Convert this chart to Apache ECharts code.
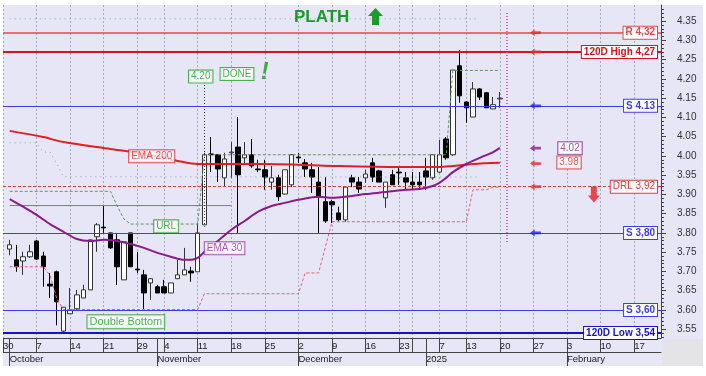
<!DOCTYPE html>
<html><head><meta charset="utf-8">
<script src="https://cdn.jsdelivr.net/npm/echarts@6/dist/echarts.min.js"></script>
<style>
html,body{margin:0;padding:0;background:#fff;}
#wrap{position:relative;width:706px;height:376px;overflow:hidden;}
#bg{position:absolute;left:3px;top:5px;width:700px;height:361px;background:#E6E6F7;}
#corner{position:absolute;left:662px;top:339px;width:41px;height:27px;background:#E3E3E8;}
#chart{position:absolute;left:0;top:0;width:706px;height:376px;}
#mask{position:absolute;left:0;top:0;width:3px;height:376px;background:#fff;}
</style></head><body>
<div id="wrap"><div id="bg"></div><div id="corner"></div><div id="chart"></div><div id="mask"></div></div>
<script>
// ---- data ----
const tradeDates = [
'2024-10-01','2024-10-02','2024-10-03','2024-10-04',
'2024-10-07','2024-10-08','2024-10-09','2024-10-10','2024-10-11',
'2024-10-14','2024-10-15','2024-10-16','2024-10-17','2024-10-18',
'2024-10-21','2024-10-22','2024-10-23','2024-10-24','2024-10-25',
'2024-10-29','2024-10-30','2024-10-31','2024-11-01',
'2024-11-04','2024-11-05','2024-11-06','2024-11-07','2024-11-08',
'2024-11-11','2024-11-12','2024-11-13','2024-11-14','2024-11-15',
'2024-11-18','2024-11-19','2024-11-20','2024-11-21','2024-11-22',
'2024-11-25','2024-11-26','2024-11-27','2024-11-28','2024-11-29',
'2024-12-02','2024-12-03','2024-12-04','2024-12-05','2024-12-06',
'2024-12-09','2024-12-10','2024-12-11','2024-12-12','2024-12-13',
'2024-12-16','2024-12-17','2024-12-18','2024-12-19','2024-12-20',
'2024-12-23','2024-12-27','2024-12-30','2024-12-31',
'2025-01-02','2025-01-03',
'2025-01-07','2025-01-08','2025-01-09','2025-01-10',
'2025-01-13','2025-01-14','2025-01-15','2025-01-16','2025-01-17',
'2025-01-20'];
const futureDates = [
'2025-01-21','2025-01-22','2025-01-23','2025-01-24',
'2025-01-27','2025-01-28','2025-01-29','2025-01-30','2025-01-31',
'2025-02-03','2025-02-04','2025-02-05','2025-02-06','2025-02-07',
'2025-02-10','2025-02-11','2025-02-12','2025-02-13','2025-02-14',
'2025-02-17','2025-02-18','2025-02-19','2025-02-20','2025-02-21'];
const axisDates = ['2024-09-30'].concat(tradeDates, futureDates);

const openP  = [3.758,3.730,3.727,3.738, 3.779,3.740,3.667,3.699,3.545, 3.590,3.603,3.631,3.652,3.790, 3.815,3.800,3.782,3.678,3.800, 3.706,3.691,3.670,3.660, 3.660,3.644,3.681,3.691,3.701, 3.699,3.821,4.005,4.003,3.943, 4.008,4.023,3.995,4.003,3.966, 3.964,3.932,3.943,3.901,3.925, 3.997,3.982,3.964,3.932,3.881, 3.881,3.852,3.834,3.943,3.932, 3.943,3.982,3.961,3.891,3.951, 3.958,3.943,3.932,3.932, 3.961,3.943, 3.958,4.044,4.003,4.234, 4.140,4.101,4.174,4.164,4.122, 4.148];
const closeP = [3.769,3.712,3.738,3.751, 3.732,3.712,3.662,3.621,3.607, 3.600,3.639,3.652,3.782,3.821, 3.813,3.761,3.712,3.777,3.712, 3.704,3.644,3.681,3.644, 3.644,3.670,3.691,3.704,3.696, 3.800,4.003,4.003,3.966,3.992, 4.010,3.951,4.003,3.974,3.964, 3.945,3.943,3.894,3.964,4.003, 3.995,3.966,3.945,3.894,3.831, 3.873,3.834,3.919,3.932,3.914, 3.953,3.945,3.932,3.932,3.925, 3.956,3.932,3.925,3.925, 3.945,4.003, 4.003,3.995,4.223,4.156, 4.125,4.174,4.153,4.125,4.133, 4.150];
const lowP   = [3.742,3.699,3.691,3.735, 3.730,3.660,3.631,3.560,3.540, 3.590,3.600,3.631,3.652,3.751, 3.800,3.758,3.665,3.678,3.712, 3.696,3.600,3.626,3.644, 3.644,3.644,3.681,3.691,3.673, 3.699,3.821,3.958,3.932,3.922, 3.943,3.800,3.977,3.969,3.958, 3.912,3.912,3.883,3.899,3.919, 3.982,3.945,3.904,3.800,3.826, 3.826,3.829,3.829,3.919,3.904, 3.930,3.932,3.932,3.865,3.925, 3.925,3.912,3.912,3.912, 3.912,3.938, 3.956,3.990,4.000,4.138, 4.086,4.101,4.145,4.125,4.122, 4.125];
const highP  = [3.782,3.769,3.751,3.769, 3.782,3.751,3.696,3.702,3.607, 3.657,3.652,3.665,3.782,3.826, 3.873,3.800,3.800,3.777,3.800, 3.751,3.704,3.683,3.665, 3.678,3.670,3.730,3.761,3.712, 3.826,4.008,4.049,4.005,4.008, 4.036,4.101,4.036,4.044,3.990, 3.990,3.974,3.951,3.964,4.005, 4.008,3.992,3.982,3.971,3.945, 3.886,3.868,3.919,3.951,3.945, 3.964,3.995,3.964,3.932,3.964, 3.971,3.958,3.958,3.958, 3.995,4.003, 4.042,4.049,4.223,4.275, 4.142,4.192,4.176,4.166,4.153, 4.166];

const ema200Dates = ['2024-10-01','2024-10-08','2024-10-11','2024-10-22','2024-10-29','2024-11-04','2024-11-06','2024-11-11','2024-11-25','2024-12-02','2024-12-09','2024-12-23','2025-01-07','2025-01-09','2025-01-14','2025-01-20'];
const ema200Vals  = [4.065,4.049,4.036,4.018,4.008,3.995,3.987,3.979,3.979,3.977,3.974,3.971,3.971,3.974,3.979,3.982];

const ema30Dates = ['2024-10-01','2024-10-03','2024-10-07','2024-10-09','2024-10-11','2024-10-15','2024-10-17','2024-10-21','2024-10-23','2024-10-25','2024-10-30','2024-11-01','2024-11-05','2024-11-07','2024-11-08','2024-11-11','2024-11-12','2024-11-14','2024-11-18','2024-11-20','2024-11-22','2024-11-26','2024-11-28','2024-12-02','2024-12-05','2024-12-09','2024-12-12','2024-12-16','2024-12-19','2024-12-27','2024-12-31','2025-01-03','2025-01-07','2025-01-08','2025-01-09','2025-01-13','2025-01-15','2025-01-17','2025-01-20'];
const ema30Vals  = [3.888,3.868,3.847,3.823,3.803,3.784,3.779,3.782,3.779,3.771,3.761,3.748,3.738,3.730,3.730,3.735,3.751,3.779,3.808,3.831,3.855,3.870,3.878,3.886,3.894,3.891,3.896,3.901,3.906,3.912,3.914,3.922,3.930,3.943,3.958,3.979,3.995,4.010,4.021];

const urlDates = ['2024-10-01','2024-10-22','2024-10-23','2024-10-24','2024-10-25','2024-11-11','2024-11-12','2025-01-08','2025-01-09','2025-01-20'];
const urlVals  = [3.908,3.908,3.870,3.836,3.823,3.823,4.003,4.003,4.222,4.222];

const supportGreenDates = ['2024-10-01','2024-11-18'];
const supportGreenVals  = [3.871,3.871];

const stopDates = ['2024-10-01','2024-10-08','2024-10-09','2024-10-10','2024-10-11','2024-11-11','2024-11-12','2024-12-02','2024-12-03','2024-12-05','2024-12-09','2025-01-13','2025-01-14','2025-01-16','2025-01-17','2025-01-20'];
const stopVals  = [3.712,3.712,3.690,3.630,3.601,3.601,3.642,3.642,3.696,3.696,3.829,3.829,3.912,3.912,3.919,3.919];

const upperDotDates = ['2024-10-01','2025-01-15'];
const upperDotVals  = [4.356,4.356];
const lowerDotDates = ['2024-10-01','2024-10-07','2024-10-08','2024-10-09','2024-10-10','2024-10-11','2025-01-15'];
const lowerDotVals  = [4.034,4.034,4.010,4.010,3.980,3.946,3.945];

const weekStarts = ['2024-09-30','2024-10-07','2024-10-14','2024-10-21','2024-10-29','2024-11-04','2024-11-11','2024-11-18','2024-11-25','2024-12-02','2024-12-09','2024-12-16','2024-12-23','2024-12-30','2025-01-07','2025-01-13','2025-01-20','2025-01-27','2025-02-03','2025-02-10','2025-02-17'];
const unlabeledWeeks = ['2024-12-30'];
const monthStarts = ['2024-10-01','2024-11-01','2024-12-02','2025-01-02','2025-02-03'];
const monthNames  = ['October','November','December','2025','February'];

const yTicks = [3.55,3.60,3.65,3.70,3.75,3.80,3.85,3.90,3.95,4.00,4.05,4.10,4.15,4.20,4.25,4.30,4.35];
const lastPrice = 4.15;

// levels: value, label text, color, width, type, bold
const levelVals   = [4.32, 4.27, 4.13, 3.92, 3.80, 3.60, 3.54];
const levelTexts  = ['R 4,32','120D High 4,27','S 4.13','DRL 3,92','S 3,80','S 3,60','120D Low 3,54'];
const levelColors = ['#E24848','#D41616','#3C3CF2','#E03A3A','#3C3CF2','#3C3CF2','#1414C8'];
const levelWidths = [1.5, 2, 1, 1, 1, 1, 2];
const levelTypes  = ['solid','solid','solid',[3,2],'solid','solid','solid'];
const levelBold   = ['bold','bold','bold','normal','bold','bold','bold'];

// arrows pointing to levels
const arrowVals   = [4.32, 4.27, 4.13, 4.02, 3.98, 3.92, 3.80];
const arrowColors = ['#E03030','#E03030','#2020E0','#8B1A8B','#E03030','#E03030','#2020E0'];

// ---- build ----
const candleData = axisDates.map(d => {
  const i = tradeDates.indexOf(d);
  return i < 0 ? '-' : [openP[i], closeP[i], lowP[i], highP[i]];
});
const pairs = (ds, vs) => ds.map((d, i) => [d, vs[i]]);

const FONT = 'Liberation Sans';
const green = '#22A022';

function boxLabel(text, color, opts) {
  return Object.assign({
    show: true, position: 'inside', formatter: text, color: color,
    borderColor: color, borderWidth: 1, backgroundColor: '#fff',
    padding: [1, 2, 0, 2], fontSize: 10, fontFamily: FONT, lineHeight: 11
  }, opts || {});
}

const markLines = levelVals.map((v, i) => ({
  yAxis: v,
  lineStyle: { color: levelColors[i], width: levelWidths[i], type: levelTypes[i] },
  label: {
    show: true, position: 'insideEnd', distance: 4, formatter: levelTexts[i],
    color: levelColors[i], fontWeight: levelBold[i], fontSize: 10, fontFamily: FONT,
    backgroundColor: '#fff', borderColor: levelColors[i], borderWidth: 1,
    padding: [1, 2, 0, 2], lineHeight: 11
  }
}));
markLines.push({
  yAxis: lastPrice,
  lineStyle: { opacity: 0 },
  label: { show: true, position: 'end', distance: 2, formatter: lastPrice.toFixed(5),
    color: '#22FF22', backgroundColor: '#000', padding: [1, 1, 0, 1], fontSize: 9, fontFamily: FONT, lineHeight: 11 }
});
markLines.push([
  { coord: ['2024-11-12', 4.192], lineStyle: { color: '#333', type: [1, 2], width: 1 }, label: { show: false } },
  { coord: ['2024-11-12', 3.816] }
]);
markLines.push([
  { coord: ['2025-01-21', 4.371], lineStyle: { color: '#C040B8', type: [1, 2], width: 1.5 }, label: { show: false } },
  { coord: ['2025-01-21', 3.774] }
]);

const arrowPath = 'path://M0,5 L6,0 L6,3 L14,3 L14,7 L6,7 L6,10 Z';
const downArrowPath = 'path://M3,0 L9,0 L9,9 L12,9 L6,16 L0,9 L3,9 Z';
const arrowData = arrowVals.map((v, i) => ({
  value: ['2025-01-27', v], symbol: arrowPath, symbolSize: [11, 7], symbolOffset: [2, 0],
  itemStyle: { color: arrowColors[i] }
}));
arrowData.push({ value: ['2025-02-07', 3.90], symbol: downArrowPath, symbolSize: [12, 16], itemStyle: { color: '#E82020' } });

const annData = [
  { value: ['2024-11-11', 4.206], label: boxLabel('4.20', green, { offset: [3, 0] }) },
  { value: ['2024-11-19', 4.213], label: boxLabel('DONE', green, { offset: [-1, 0] }) },
  { value: ['2024-11-25', 4.218], label: { show: true, position: 'inside', formatter: '!', color: '#1E9A1E', fontSize: 24, fontWeight: 'bold', fontStyle: 'italic', fontFamily: FONT } },
  { value: ['2024-11-04', 3.817], label: boxLabel('URL', green, { offset: [2, 0] }) },
  { value: ['2024-10-31', 3.999], label: boxLabel('EMA 200', '#E02828', { offset: [1, 0] }) },
  { value: ['2024-11-15', 3.760], label: boxLabel('EMA 30', '#A02CA0', { offset: [0, 0] }) },
  { value: ['2024-10-24', 3.569], label: boxLabel('Double Bottom', green, { offset: [2, 0], fontSize: 11, lineHeight: 12 }) },
  { value: ['2025-02-03', 4.020], label: boxLabel('4.02', '#8B2A8B', { offset: [3, 0] }) },
  { value: ['2025-02-03', 3.983], label: boxLabel('3.98', '#E03030', { offset: [2, 0] }) }
];

const isWeek = (i, v) => weekStarts.indexOf(v) >= 0;
const isWeekOrMonth = (i, v) => weekStarts.indexOf(v) >= 0 || monthStarts.indexOf(v) >= 0;
const isLabeledWeek = (i, v) => weekStarts.indexOf(v) >= 0 && unlabeledWeeks.indexOf(v) < 0;
const isMonth = (i, v) => monthStarts.indexOf(v) >= 0;

const chart = echarts.init(document.getElementById('chart'), null, { renderer: 'canvas' });
chart.setOption({
  animation: false,
  backgroundColor: 'transparent',
  textStyle: { fontFamily: FONT },
  title: { text: 'PLATH', left: 294, top: 9, padding: 0,
    textStyle: { color: '#1C9A2A', fontSize: 17, fontWeight: 'bold', fontFamily: FONT } },
  graphic: [{ type: 'polygon', shape: { points: [[368, 16], [375.5, 8], [383, 16], [379, 16], [379, 25], [372, 25], [372, 16]] }, style: { fill: '#1C9A2A' } }],
  grid: { left: -3.5, right: 45, top: 5, bottom: 38 },
  xAxis: [{
    type: 'category', data: axisDates, boundaryGap: false, position: 'bottom',
    axisLine: { onZero: false, lineStyle: { color: '#444', width: 1 } },
    axisTick: { show: true, interval: isWeekOrMonth, length: 14, lineStyle: { color: '#444' } },
    axisLabel: { interval: isLabeledWeek, formatter: v => String(parseInt(v.slice(8), 10)),
      align: 'left', margin: 3, fontSize: 9.5, color: '#222', fontFamily: FONT },
    splitLine: { show: true, interval: isWeek, lineStyle: { color: '#A8A8BC', type: [2, 2], width: 1 } }
  }, {
    type: 'category', data: axisDates, boundaryGap: false, position: 'bottom', offset: 14,
    axisLine: { onZero: false, lineStyle: { color: '#444', width: 1 } },
    axisTick: { show: true, interval: isMonth, length: 14, lineStyle: { color: '#444' } },
    axisLabel: { interval: isMonth, formatter: v => monthNames[monthStarts.indexOf(v)],
      align: 'left', margin: 2, fontSize: 9.5, color: '#222', fontFamily: FONT },
    splitLine: { show: false }
  }],
  yAxis: [{
    type: 'value', position: 'right', min: 3.527, max: 4.392,
    axisLine: { show: true, lineStyle: { color: '#444' } },
    axisTick: { show: true, customValues: yTicks, length: 5, lineStyle: { color: '#444' } },
    axisLabel: { customValues: yTicks, formatter: v => v.toFixed(2), margin: 16, fontSize: 10, color: '#333', fontFamily: FONT },
    splitLine: { show: false }
  }, {
    type: 'value', position: 'right', min: 3.527, max: 4.392,
    axisLine: { show: false },
    axisTick: { show: true, customValues: Array.from({ length: 86 }, (_, k) => +(3.53 + k * 0.01).toFixed(2)), length: 3, lineStyle: { color: '#444' } },
    axisLabel: { show: false },
    splitLine: { show: false }
  }],
  series: [
    { name: 'PLATH', type: 'candlestick', data: candleData, barWidth: 5, z: 3,
      itemStyle: { color: '#ffffff', color0: '#000000', borderColor: '#333333', borderColor0: '#000000', borderWidth: 1 },
      markLine: { silent: true, symbol: ['none', 'none'], animation: false, data: markLines } },
    { name: 'EMA 200', type: 'line', data: pairs(ema200Dates, ema200Vals), showSymbol: false, smooth: 0.3, z: 5,
      lineStyle: { color: '#E02020', width: 2 } },
    { name: 'EMA 30', type: 'line', data: pairs(ema30Dates, ema30Vals), showSymbol: false, smooth: 0.3, z: 5,
      lineStyle: { color: '#8B1A8B', width: 2 } },
    { name: 'URL', type: 'line', data: pairs(urlDates, urlVals), showSymbol: false, z: 4,
      lineStyle: { color: '#5A9A5A', width: 1, type: [3, 2] } },
    { name: 'Support', type: 'line', data: pairs(supportGreenDates, supportGreenVals), showSymbol: false, z: 4,
      lineStyle: { color: '#4C9C4C', width: 1 } },
    { name: 'Stop', type: 'line', data: pairs(stopDates, stopVals), showSymbol: false, z: 4,
      lineStyle: { color: '#E0607A', width: 1, type: [3, 2] } },
    { name: 'Upper', type: 'line', data: pairs(upperDotDates, upperDotVals), showSymbol: false, z: 4,
      lineStyle: { color: '#9A9AA8', width: 1, type: [1, 4] } },
    { name: 'Lower', type: 'line', data: pairs(lowerDotDates, lowerDotVals), showSymbol: false, z: 4,
      lineStyle: { color: '#9A9AA8', width: 1, type: [1, 4] } },
    { name: 'Arrows', type: 'scatter', data: arrowData, z: 6, silent: true },
    { name: 'Notes', type: 'scatter', data: annData, symbolSize: 1, z: 7, silent: true,
      itemStyle: { color: 'rgba(0,0,0,0)' } }
  ]
});
</script>
</body></html>
